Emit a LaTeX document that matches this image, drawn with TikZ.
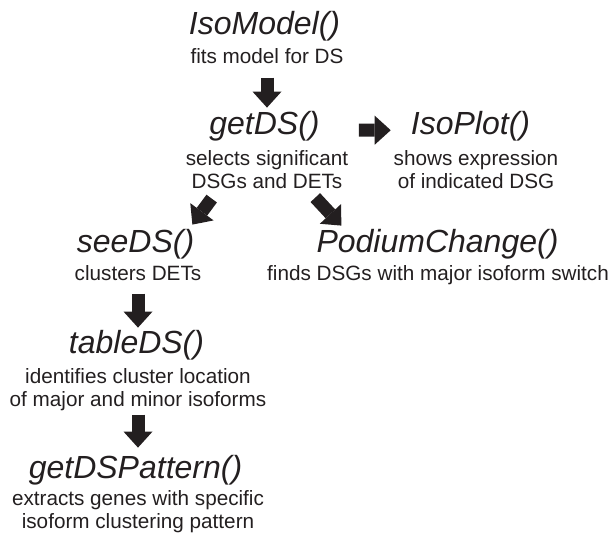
\documentclass[tikz,border=0pt]{standalone}
\usepackage{fontspec}
\setmainfont{Liberation Sans}
\usetikzlibrary{arrows.meta}
\definecolor{ink}{RGB}{35,31,32}

\tikzset{
  fname/.style={anchor=base,inner sep=0pt,text=ink,font=\fontsize{32bp}{38bp}\selectfont\itshape},
  fdesc/.style={anchor=north,inner sep=0pt,text=ink,align=center,font=\fontsize{20.7bp}{23bp}\selectfont},
  bigarrow/.style={draw=ink,line width=13bp,-{Triangle[width=29bp,length=16bp,line width=0pt]}}
}

\begin{document}
\begin{tikzpicture}[x=1bp,y=-1bp]
\useasboundingbox (0,0) rectangle (612,534);
\node[fname] (isomodel) at (264.5,35) {IsoModel()};
\node[fdesc] (modeldesc) at (267,48) {fits model for DS};
\node[fname] (getds) at (264.5,135) {getDS()};
\node[fdesc] (gdsdesc) at (267,150) {selects significant\\DSGs and DETs};
\node[fname] (isoplot) at (470.5,135) {IsoPlot()};
\node[fdesc] (plotdesc) at (476,150) {shows expression\\of indicated DSG};
\node[fname] (seeds) at (135.5,252) {seeDS()};
\node[fdesc] (seedesc) at (138,265) {clusters DETs};
\node[fname] (podium) at (437.5,252) {PodiumChange()};
\node[fdesc] (podiumdesc) at (438,265) {finds DSGs with major isoform switch};
\node[fname] (tableds) at (136.5,353) {tableDS()};
\node[fdesc] (tabledesc) at (138,368) {identifies cluster location\\of major and minor isoforms};
\node[fname] (pattern) at (135.5,478) {getDSPattern()};
\node[fdesc] (patterndesc) at (138,490) {extracts genes with specific\\isoform clustering pattern};
% block arrows
\draw[bigarrow,shorten <=14bp,shorten >=4bp] (modeldesc.south) -- (modeldesc.south |- getds.north);
\draw[bigarrow,shorten <=39bp,shorten >=20bp] ([yshift=-3.5bp]getds.east) -- ([yshift=-3.5bp]isoplot.west);
\draw[bigarrow] ([xshift=26bp,yshift=-10bp]gdsdesc.south west) -- ([xshift=-2bp,yshift=4bp]seeds.north east);
\draw[bigarrow] ([xshift=-33bp,yshift=-9bp]gdsdesc.south east) -- ([xshift=25bp,yshift=3bp]podium.north west);
\draw[bigarrow,shorten <=13bp,shorten >=2bp] (seedesc.south) -- (seedesc.south |- tableds.north);
\draw[bigarrow,shorten <=4bp,shorten >=7bp] (tabledesc.south) -- (tabledesc.south |- pattern.north);
\end{tikzpicture}
\end{document}
